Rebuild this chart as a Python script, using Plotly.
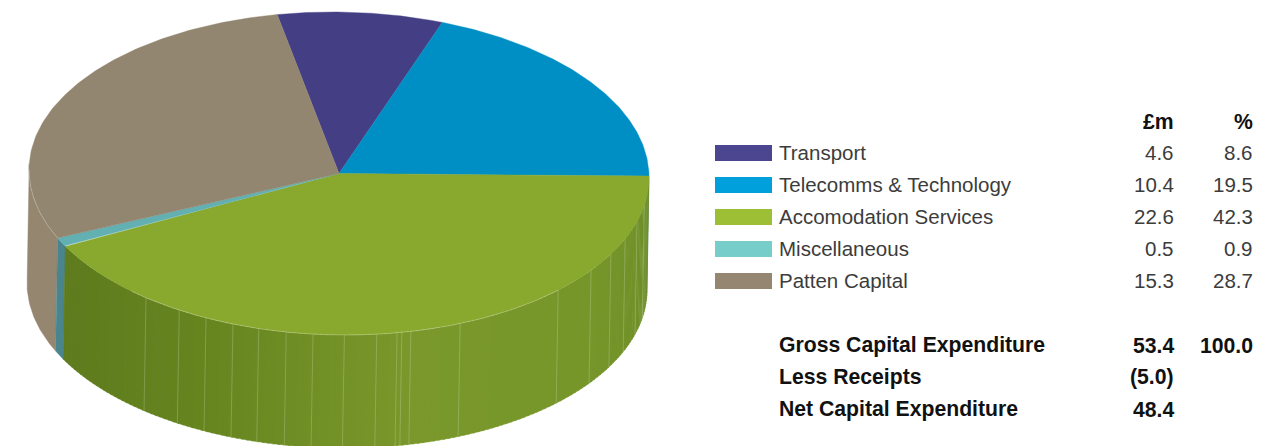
import numpy as np
import plotly.graph_objects as go

# Capital expenditure breakdown
CATEGORIES = ["Transport", "Telecomms & Technology", "Accomodation Services", "Miscellaneous", "Patten Capital"]
AMOUNT_M = [4.6, 10.4, 22.6, 0.5, 15.3]
SHARE_PCT = [8.6, 19.5, 42.3, 0.9, 28.7]
AMOUNT_LABELS = ["4.6", "10.4", "22.6", "0.5", "15.3"]
SHARE_LABELS = ["8.6", "19.5", "42.3", "0.9", "28.7"]
SUMMARY_ROWS = ["Gross Capital Expenditure", "Less Receipts", "Net Capital Expenditure"]
SUMMARY_AMOUNTS = ["53.4", "(5.0)", "48.4"]
SUMMARY_SHARES = ["100.0", "", ""]

TOP_COLORS = ["#443f84", "#008fc5", "#88a82e", "#63b0b3", "#938670"]
KEY_COLORS = ["#4b468f", "#00a0dc", "#9dbf35", "#76cdc9", "#948670"]
WALL_COLORS = ["#443f84", "#7cc4dc", "#7a982b", "#4a848c", "#95866f"]

# Projection of the disc onto the page
CX, CY, RX, RY = 339.0, 173.5, 310.0, 161.5
TILT = 3.5
DEPTH, SHEAR = 113.0, -2.0
START_DEG = -11.5

# Angles where the side wall's facets meet
SEAM_DEG = [100, 106, 112.6, 118.7, 125.6, 135, 157, 166.6, 168.3, 169.2, 173, 179, 184.8,
            189.8, 195, 200, 205.4, 211, 218.5]


def rim(t_deg, lower=False):
    t = np.radians(t_deg)
    x = CX + RX * np.sin(t) + (SHEAR if lower else 0)
    y = CY - RY * np.cos(t) + TILT * np.sin(t) + (DEPTH if lower else 0)
    return x, y


def polygon(fig, xs, ys, color):
    fig.add_trace(go.Scatter(x=xs, y=ys, mode="lines", fill="toself", fillcolor=color,
                             line=dict(color=color, width=0.4), hoverinfo="skip", showlegend=False))


def stroke(fig, xs, ys, color, width=1.0):
    fig.add_trace(go.Scatter(x=xs, y=ys, mode="lines", line=dict(color=color, width=width),
                             hoverinfo="skip", showlegend=False))


def blend(a, b, f):
    ca = [int(a[i:i + 2], 16) for i in (1, 3, 5)]
    cb = [int(b[i:i + 2], 16) for i in (1, 3, 5)]
    return "#%02x%02x%02x" % tuple(round(p + (q - p) * f) for p, q in zip(ca, cb))


def green_wall_color(t):
    # Shading of the front wall: lit around the right, falling away to the left
    if t <= 100:
        return blend("#6a8b30", "#6f9029", max(0, (t - 90) / 10))
    if t <= 125:
        return blend("#6f9029", "#76962a", (t - 100) / 25)
    if t <= 165:
        return blend("#76962a", "#7a982b", (t - 125) / 40)
    if t <= 205:
        return blend("#7a982b", "#66851f", (t - 165) / 40)
    return blend("#66851f", "#5f7c1e", min(1, (t - 205) / 30))


edges = START_DEG + np.concatenate([[0], np.cumsum(SHARE_PCT)]) * 3.6
fig = go.Figure()

# Side walls of the near half of the disc, back to front
wall_spans = {1: (87.0, edges[2]), 4: (edges[4], 272.0), 3: (edges[3], edges[4]), 2: (edges[2], edges[3])}
for idx, (a, b) in wall_spans.items():
    if idx == 2:
        continue
    ts = np.linspace(a, b, 40)
    upper = rim(ts)
    lower = rim(ts[::-1], lower=True)
    polygon(fig, np.r_[upper[0], lower[0]], np.r_[upper[1], lower[1]], WALL_COLORS[idx])

a, b = wall_spans[2]
for t0 in np.arange(a, b, 1.0):
    ts = np.linspace(t0, min(t0 + 1.3, b), 4)
    upper = rim(ts)
    lower = rim(ts[::-1], lower=True)
    polygon(fig, np.r_[upper[0], lower[0]], np.r_[upper[1], lower[1]], green_wall_color(t0))

for t in SEAM_DEG:
    xs, ys = zip(rim(t), rim(t, lower=True))
    stroke(fig, list(xs), list(ys), "rgba(255,255,255,0.20)", 1.0)

# Top faces
for i, color in enumerate(TOP_COLORS):
    ts = np.linspace(edges[i], edges[i + 1], 120)
    xs, ys = rim(ts)
    polygon(fig, np.r_[CX, xs, CX], np.r_[CY, ys, CY], color)

# Pale highlight along the near rim
ts = np.linspace(135, 222, 120)
stroke(fig, *rim(ts), "rgba(255,255,255,0.30)", 0.8)
ts = np.linspace(edges[4], 270, 40)
stroke(fig, *rim(ts), "rgba(255,255,255,0.30)", 0.8)

# Key swatches and table text
ROW_Y = [153, 185, 217, 249, 281]
SUMMARY_Y = [345, 377, 409]
LABEL_COLOR = "#3c3c3c"
BOLD_COLOR = "#111111"
LEFT_X, AMOUNT_X, SHARE_X = 778, 1175, 1254
FONT = "Liberation Sans"


def text(x, y, s, anchor, bold=False):
    fig.add_annotation(x=x, y=y, xref="x", yref="y", text=s, showarrow=False, xanchor=anchor,
                       yanchor="middle", borderpad=0,
                       font=dict(family=FONT, size=21.2 if bold else 20.5,
                                 color=BOLD_COLOR if bold else LABEL_COLOR,
                                 weight="bold" if bold else "normal"))


for name, amount, share, y, color in zip(CATEGORIES, AMOUNT_LABELS, SHARE_LABELS, ROW_Y, KEY_COLORS):
    fig.add_shape(type="rect", xref="x", yref="y", x0=715, x1=772, y0=y - 8, y1=y + 8,
                  fillcolor=color, line_width=0)
    text(LEFT_X, y - 1, name, "left")
    text(AMOUNT_X, y - 1, amount, "right")
    text(SHARE_X, y - 1, share, "right")

text(AMOUNT_X, 121, "£m", "right", bold=True)
text(SHARE_X, 121, "%", "right", bold=True)

for name, amount, share, y in zip(SUMMARY_ROWS, SUMMARY_AMOUNTS, SUMMARY_SHARES, SUMMARY_Y):
    text(LEFT_X, y, name, "left", bold=True)
    text(AMOUNT_X, y, amount, "right", bold=True)
    if share:
        text(SHARE_X, y, share, "right", bold=True)

fig.update_layout(
    width=1284, height=446, margin=dict(l=0, r=0, t=0, b=0),
    paper_bgcolor="white", plot_bgcolor="white", showlegend=False,
    xaxis=dict(range=[0, 1284], visible=False, fixedrange=True),
    yaxis=dict(range=[446, 0], visible=False, fixedrange=True),
)
fig.write_html("out.html", config={"displayModeBar": False})
